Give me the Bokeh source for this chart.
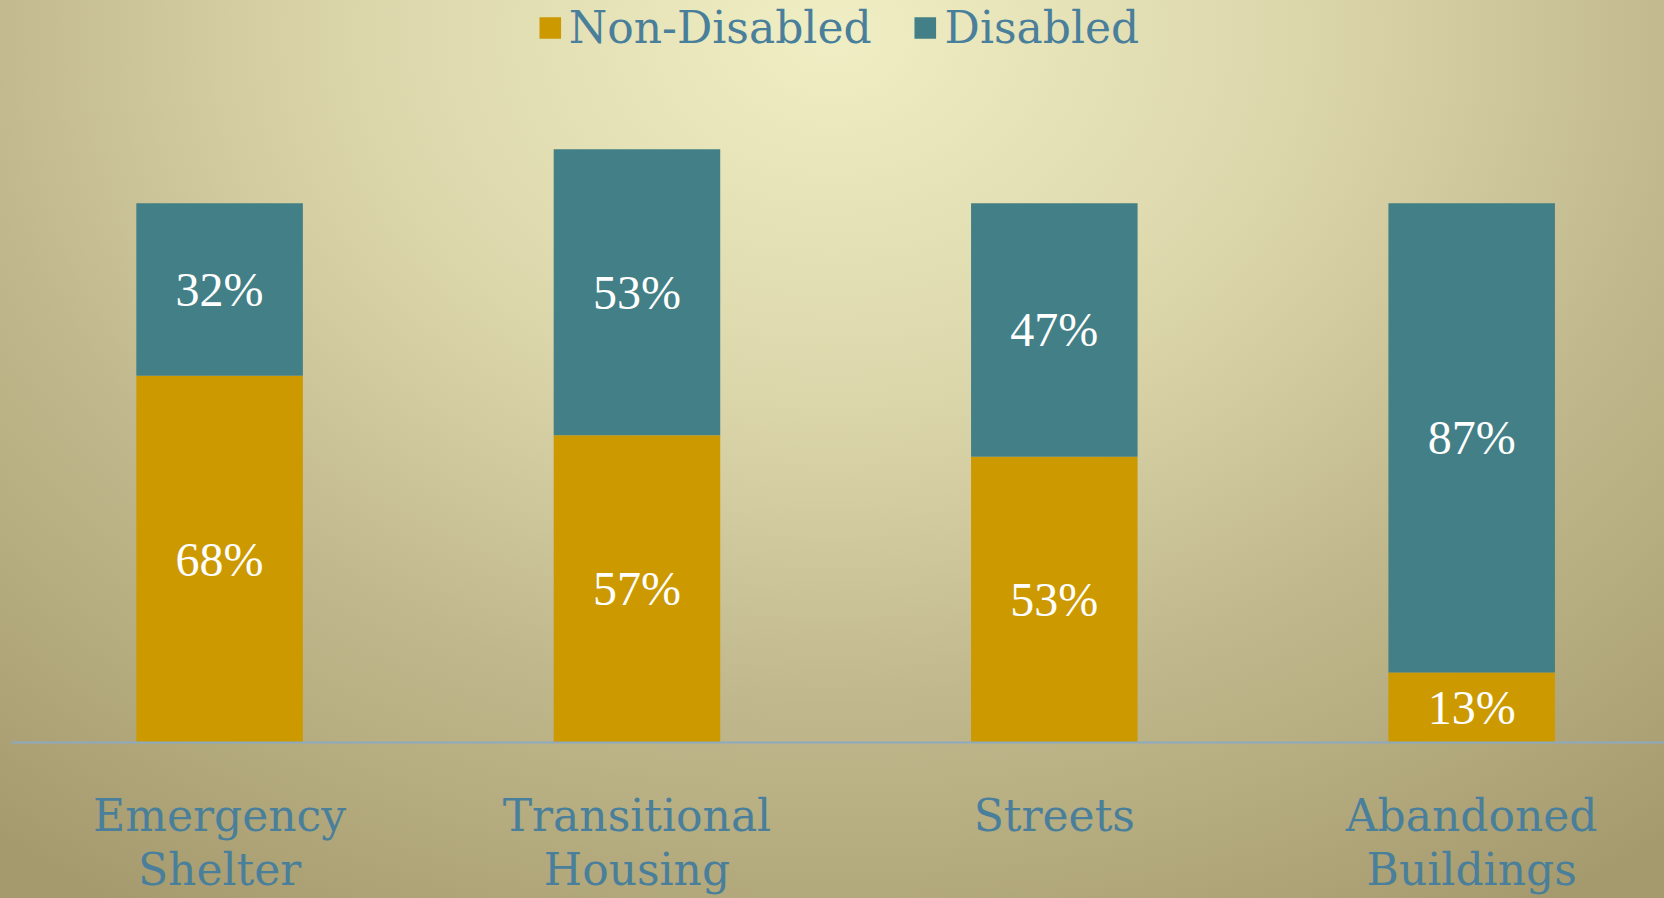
from bokeh.plotting import figure
from bokeh.models import (ColumnDataSource, Range1d, FixedTicker, LabelSet,
                          Legend, LegendItem, GlobalInlineStyleSheet)
from bokeh.embed import file_html
from bokeh.resources import INLINE

categories = ["Emergency\nShelter", "Transitional\nHousing", "Streets", "Abandoned\nBuildings"]
non_disabled = [68, 57, 53, 13]
disabled = [32, 53, 47, 87]

GOLD = "#CC9900"
TEAL = "#437F86"
TEXT = "#4A7F9B"
FONT = "DejaVu Serif"

x = list(range(len(categories)))
top1 = non_disabled
top2 = [a + b for a, b in zip(non_disabled, disabled)]
src = ColumnDataSource(dict(
    x=x, nd=non_disabled, d=disabled, top1=top1, top2=top2,
    mid1=[v / 2 for v in non_disabled],
    mid2=[a + b / 2 for a, b in zip(non_disabled, disabled)],
    lab1=[f"{v}%" for v in non_disabled],
    lab2=[f"{v}%" for v in disabled],
))

p = figure(width=1664, height=898, output_backend="svg", toolbar_location=None,
           x_range=Range1d(-0.4986, 3.462), y_range=Range1d(0, 137.6),
           min_border_left=11, min_border_right=0, min_border_top=0,
           min_border_bottom=155)
p.background_fill_color = None
p.border_fill_color = None
p.outline_line_color = None
p.grid.visible = False
p.yaxis.visible = False

r1 = p.vbar(x="x", bottom=0, top="top1", width=0.399, color=GOLD, line_color=None, source=src)
r2 = p.vbar(x="x", bottom="top1", top="top2", width=0.399, color=TEAL, line_color=None, source=src)

for ycol, tcol in (("mid1", "lab1"), ("mid2", "lab2")):
    p.add_layout(LabelSet(x="x", y=ycol, text=tcol, source=src, text_align="center",
                          text_baseline="middle", text_color="white",
                          text_font=FONT, text_font_size="48px"))

ax = p.xaxis[0]
ax.ticker = FixedTicker(ticks=x)
ax.major_label_overrides = {i: c for i, c in zip(x, categories)}
ax.major_tick_line_color = None
ax.minor_tick_line_color = None
ax.axis_line_color = "#8EA9BE"
ax.axis_line_width = 2
ax.major_label_text_font = FONT
ax.major_label_text_font_size = "44px"
ax.major_label_text_color = TEXT
ax.major_label_text_line_height = 1.07
ax.major_label_standoff = 41

legend = Legend(items=[LegendItem(label="Non-Disabled", renderers=[r1]),
                       LegendItem(label="Disabled", renderers=[r2])],
                location="top_center", orientation="horizontal",
                background_fill_alpha=0, border_line_color=None,
                label_text_font=FONT, label_text_font_size="44px",
                label_text_color=TEXT, glyph_width=27, glyph_height=27,
                label_standoff=6, spacing=40, padding=0, margin=2)
p.add_layout(legend)

p.stylesheets = [GlobalInlineStyleSheet(css=(
    "html, body { min-height: 100%; height: 100%; overflow: hidden; background: radial-gradient("
    "ellipse 80% 115% at 50% 4%, #F0EEC4 0%, #DCD7AB 35%, #C0B88C 65%, #A59A6D 100%) fixed; }"
))]

open("out.html", "w").write(file_html(p, INLINE))
